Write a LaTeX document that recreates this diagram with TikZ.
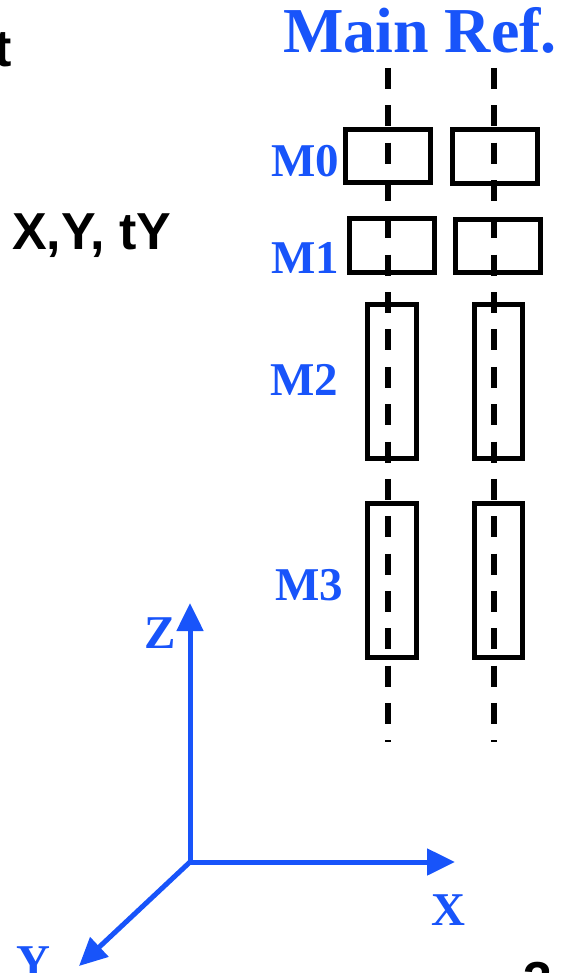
\documentclass[tikz,border=0pt]{standalone}
\usepackage{fontspec}
\setmainfont{Liberation Serif}
\newfontfamily\arialfont{Liberation Sans}
\usetikzlibrary{arrows.meta}
\definecolor{refblue}{RGB}{24,84,250}
\tikzset{
  lbl/.style={text=refblue,font=\bfseries\fontsize{47}{47}\selectfont,inner sep=0pt,anchor=base},
  blk/.style={text=black,font=\arialfont\bfseries\fontsize{52}{52}\selectfont,inner sep=0pt},
  mbox/.style={draw=black,line width=5pt,inner sep=0pt,minimum width=#1},
  axisline/.style={draw=refblue,line width=5pt,-{Triangle[length=28pt,width=26pt]}},
  dline/.style={draw=black,line width=5.5pt,dash pattern=on 21pt off 16.35pt}
}
\begin{document}
\begin{tikzpicture}[x=1pt,y=-1pt]
\useasboundingbox (0,0) rectangle (571,973);
\clip (0,0) rectangle (571,973);
% texts
\node[blk,anchor=base east] (tt) at (12,67) {t};
\node[blk,anchor=base west] (xy) at (12,250) {X,Y, tY};
\node[text=refblue,font=\bfseries\fontsize{64}{64}\selectfont,inner sep=0pt,anchor=base west] (title) at (283,53) {Main Ref.};
% boxes
\node[mbox=85pt,minimum height=53pt] (m0l) at (388,156) {};
\node[mbox=85pt,minimum height=54pt] (m0r) at (495,156.5) {};
\node[mbox=85pt,minimum height=54pt] (m1l) at (392,245.5) {};
\node[mbox=85pt,minimum height=53pt] (m1r) at (498,246) {};
\node[mbox=49pt,minimum height=154pt] (m2l) at (392,381.5) {};
\node[mbox=48pt,minimum height=154pt] (m2r) at (498.5,381.5) {};
\node[mbox=49pt,minimum height=154pt] (m3l) at (392,580.5) {};
\node[mbox=48pt,minimum height=154pt] (m3r) at (498.5,580.5) {};
% dashed axes
\coordinate (lt) at (388,68);
\coordinate (lb) at (388,742);
\coordinate (rt) at (494,68);
\coordinate (rb) at (494,742);
\draw[dline] (lt) -- (lb);
\draw[dline] (rt) -- (rb);
% M labels
\node[lbl] (lm0) at (305,177) {M0};
\node[lbl] (lm1) at (305,273) {M1};
\node[lbl] (lm2) at (304,395) {M2};
\node[lbl] (lm3) at (309,600) {M3};
% coordinate axes
\coordinate (O) at (190,862);
\coordinate (zt) at (190,603);
\coordinate (xt) at (455,862);
\coordinate (yt) at (79,966);
\draw[axisline] (O) -- (zt);
\draw[axisline] (O) -- (xt);
\draw[axisline] (O) -- (yt);
\node[lbl] (lz) at (160,648) {Z};
\node[lbl] (lx) at (448,925) {X};
\node[lbl] (ly) at (33,977) {Y};
\node[blk,anchor=base] (three) at (538,998) {3};
\end{tikzpicture}
\end{document}
